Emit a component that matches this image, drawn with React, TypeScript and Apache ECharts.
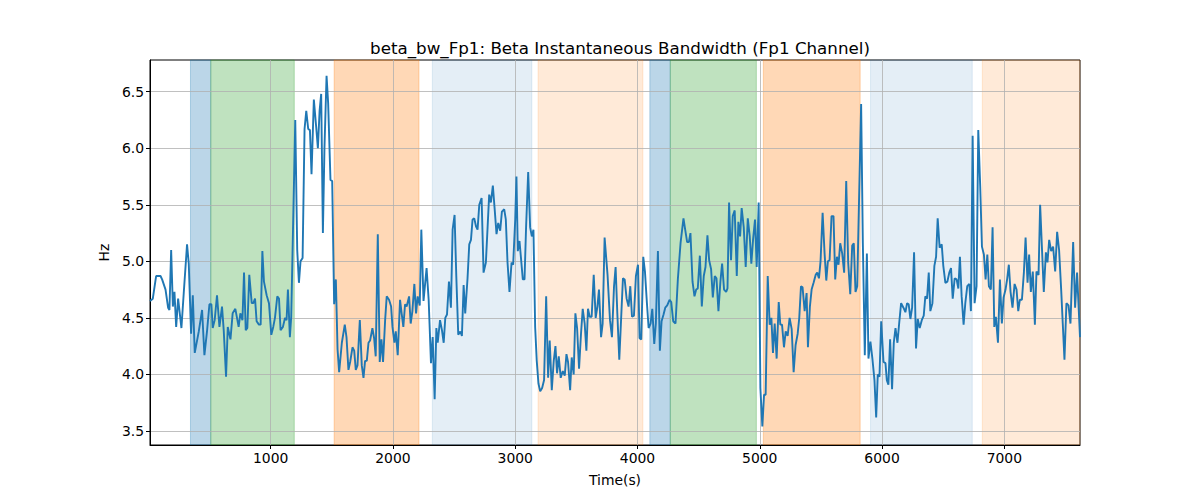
import React, { useEffect, useRef } from "react";
import * as echarts from "echarts";

const times: number[] = [
  13, 36, 63, 99, 112, 140, 161, 172, 186, 200, 213, 227, 243, 270, 289, 316, 330, 349, 363, 379,
  412, 439, 458, 480, 499, 515, 526, 542, 561, 581, 602, 616, 635, 649, 671, 689, 711, 738, 752,
  769, 782, 796, 809, 825, 845, 858, 872, 885, 904, 918, 932, 945, 967, 986, 1005, 1021, 1035, 1054,
  1068, 1081, 1100, 1117, 1130, 1141, 1157, 1168, 1201, 1217, 1231, 1244, 1261, 1277, 1291, 1307,
  1321, 1334, 1353, 1372, 1386, 1400, 1413, 1427, 1440, 1457, 1470, 1489, 1503,
  1519, 1533, 1547, 1560, 1582, 1606, 1620, 1636, 1650, 1669, 1683, 1696, 1710, 1729, 1745, 1759,
  1772, 1786, 1800, 1813, 1832, 1846, 1859, 1876, 1892, 1906, 1919, 1936, 1949, 1968, 1985, 1996,
  2012, 2023, 2039, 2058, 2072, 2085, 2099, 2112, 2132, 2145, 2159, 2175, 2189, 2202, 2219, 2232,
  2250, 2275,
  2292, 2311, 2325, 2341, 2355, 2366, 2385, 2401, 2415, 2428, 2442, 2458, 2474, 2488, 2504, 2518,
  2534, 2551, 2564, 2578, 2591, 2610, 2624, 2638, 2651, 2665, 2679, 2692, 2706, 2725, 2741, 2760,
  2774, 2787, 2801, 2817, 2834, 2847, 2861, 2877, 2891, 2910, 2923, 2937, 2953, 2970, 2983, 3000,
  3010, 3021, 3035, 3062, 3076, 3089, 3106, 3122, 3136, 3149, 3163, 3176, 3190, 3204, 3220, 3236,
  3253, 3269, 3282, 3299, 3315, 3329, 3342, 3356, 3372, 3389, 3405, 3419, 3432, 3449, 3462, 3478,
  3492, 3506, 3522, 3538, 3552, 3568, 3582, 3595, 3609, 3625, 3642, 3658, 3672, 3685, 3702, 3715,
  3731,
  3755, 3775, 3791, 3808, 3821, 3835, 3851, 3868, 3881, 3895, 3911, 3927, 3941, 3955, 3971, 3987,
  4004, 4017, 4031, 4047, 4061, 4077, 4091, 4107, 4121, 4137, 4150, 4167, 4183, 4197, 4213, 4227,
  4243, 4262, 4276, 4292, 4311, 4330, 4352, 4376, 4390, 4406, 4420, 4433, 4450, 4466, 4480, 4493,
  4510, 4526, 4542, 4556, 4572, 4586, 4602, 4616, 4632, 4646, 4662, 4678, 4692, 4708, 4725, 4736,
  4749, 4765, 4779, 4795, 4812, 4825, 4839, 4852, 4869, 4885, 4902, 4918, 4931, 4945, 4961, 4975,
  4991, 5005, 5021, 5035, 5048, 5065, 5081, 5095, 5108, 5122, 5138, 5155, 5168, 5182, 5198, 5212,
  5228, 5244,
  5261, 5277, 5293, 5310, 5323, 5337, 5350, 5367, 5383, 5394, 5410, 5424, 5440, 5457, 5470, 5484,
  5497, 5514, 5530, 5544, 5557, 5571, 5587, 5603, 5617, 5631, 5644, 5658, 5674, 5690, 5707, 5723,
  5740, 5756, 5769, 5783, 5797, 5813, 5829, 5843, 5859, 5876, 5889, 5905, 5922, 5938, 5952, 5965,
  5979, 5993,
  6012, 6028, 6039, 6052, 6066, 6082, 6096, 6110, 6126, 6140, 6156, 6175, 6191, 6205, 6218, 6232,
  6246, 6262, 6278, 6292, 6308, 6325, 6341, 6354, 6368, 6382, 6395, 6412, 6428, 6442, 6455, 6471,
  6488, 6501, 6518, 6534, 6550, 6564, 6578, 6594, 6610, 6624, 6637, 6651, 6667, 6681, 6697, 6714,
  6727, 6741, 6757,
  6773, 6787, 6803, 6817, 6833, 6847, 6861, 6874, 6890, 6904, 6918, 6931, 6948, 6964, 6980, 6994,
  7010, 7024, 7037, 7051, 7067, 7084, 7100, 7114, 7127, 7144, 7160, 7174, 7190, 7203, 7217, 7233,
  7250, 7263, 7280, 7293, 7310, 7323, 7340, 7353, 7367, 7383, 7399, 7416, 7432, 7448, 7465, 7478,
  7492, 7508, 7525, 7541, 7563, 7579, 7595, 7619,
];

const values: number[] = [
  4.65, 4.67, 4.87, 4.87, 4.84, 4.75, 4.59, 4.57, 5.10, 4.60, 4.73, 4.42, 4.67, 4.41, 4.72, 5.15, 4.98, 4.36, 4.70, 4.19,
  4.38, 4.57, 4.17, 4.39, 4.62, 4.62, 4.41, 4.48, 4.70, 4.42, 4.60, 4.39, 3.98, 4.42, 4.31, 4.54, 4.58, 4.42, 4.54,
  4.48, 4.90, 4.39, 4.41, 4.88, 4.63, 4.63, 4.67, 4.47, 4.44, 4.44, 5.09, 4.82, 4.70, 4.63, 4.35, 4.42, 4.50, 4.69,
  4.67, 4.39, 4.42, 4.50, 4.48, 4.75, 4.33, 4.51, 6.25, 5.10, 4.81, 5.00, 5.03, 6.17, 6.33, 6.17,
  6.16, 5.77, 6.43, 6.19, 6.00, 6.33, 6.48, 5.25, 6.01, 6.64, 6.40, 5.72, 5.71,
  4.62, 4.84, 4.22, 4.02, 4.28, 4.44, 4.33, 4.04, 4.11, 4.24, 4.21, 4.04, 4.08, 4.48, 4.08, 3.97,
  4.12, 4.12, 4.28, 4.30, 4.41, 4.32, 4.16, 5.24, 4.11, 4.31, 4.11, 4.48, 4.69, 4.66, 4.60, 4.42,
  4.28, 4.38, 4.17, 4.66, 4.53, 4.42, 4.62, 4.60, 4.69, 4.45, 4.56, 4.80, 4.54, 4.69, 4.61, 5.28,
  4.65, 4.94,
  4.66, 4.10, 4.33, 3.78, 4.41, 4.28, 4.48, 4.39, 4.28, 4.50, 4.53, 4.82, 4.59, 5.28, 5.41, 4.87,
  4.35, 4.38, 4.34, 4.79, 4.54, 4.85, 5.15, 5.19, 5.37, 5.38, 5.31, 5.28, 5.50, 5.56, 4.90, 4.99,
  5.30, 5.59, 5.52, 5.67, 5.43, 5.24, 5.34, 5.27, 5.44, 5.46, 5.37, 4.99, 4.73, 4.99, 4.97, 5.37,
  5.75, 5.09, 5.18, 4.84, 4.84, 5.31, 5.79, 5.30, 5.22, 5.28, 4.42, 4.12, 3.92, 3.85, 3.88, 3.95,
  4.69, 3.97, 4.30, 3.86, 4.12, 4.25, 4.01, 4.16, 3.97, 4.03, 3.99, 4.18, 4.11, 3.86, 4.15, 4.00,
  4.54, 4.41, 4.05, 4.36, 4.58, 4.45, 4.21, 4.58, 4.51, 4.51, 4.88, 4.50, 4.60, 4.75, 4.33, 4.45,
  5.21,
  4.88, 4.48, 4.33, 4.78, 4.95, 4.54, 4.13, 4.54, 4.85, 4.84, 4.67, 4.60, 4.78, 4.51, 4.52, 4.87,
  4.97, 4.32, 4.31, 5.04, 4.91, 4.63, 4.41, 4.45, 4.58, 4.27, 4.45, 5.09, 4.21, 4.47, 4.53, 4.59,
  4.61, 4.66, 4.64, 4.47, 4.45, 4.84, 5.16, 5.38, 5.28, 5.17, 5.17, 5.25, 4.82, 4.69, 4.75, 4.76,
  5.05, 4.60, 4.87, 4.95, 5.23, 5.01, 4.93, 4.68, 4.87, 4.85, 4.56, 4.82, 4.98, 4.75, 4.73, 4.76,
  5.52, 5.01, 5.40, 5.45, 4.87, 5.35, 5.22, 5.47, 5.30, 4.95, 5.38, 5.22, 4.98, 5.19, 5.37, 4.95,
  5.52, 3.88, 3.54, 3.82, 3.82, 4.87, 4.44, 4.50, 4.19, 4.45, 4.14, 4.64, 4.44, 4.44, 4.24, 4.38,
  4.34, 4.50,
  4.40, 4.02, 4.26, 4.36, 4.50, 4.78, 4.77, 4.56, 4.72, 4.24, 4.60, 4.75, 4.81, 4.88, 4.90, 4.85,
  5.00, 5.43, 5.07, 4.83, 5.00, 5.01, 5.40, 5.40, 4.84, 5.04, 4.97, 5.16, 5.07, 4.90, 5.71, 4.99,
  4.71, 5.14, 5.16, 4.73, 4.78, 5.60, 6.39, 5.16, 4.17, 5.07, 4.14, 4.29, 4.13, 3.95, 3.62, 4.00,
  3.98, 4.47,
  4.11, 4.10, 3.95, 3.91, 4.31, 3.87, 4.28, 4.41, 4.28, 4.45, 4.63, 4.59, 4.55, 4.63, 4.62, 4.49,
  4.59, 5.08, 4.23, 4.49, 4.41, 4.48, 4.52, 4.69, 4.67, 4.90, 4.56, 4.63, 4.96, 5.04, 5.38, 5.12,
  5.15, 4.96, 4.81, 4.82, 4.90, 4.94, 4.67, 4.85, 4.84, 4.76, 5.04, 4.69, 4.44, 4.63, 4.78, 4.80,
  4.56, 6.11, 4.63,
  4.78, 6.16, 5.66, 5.13, 5.06, 4.84, 5.06, 4.78, 4.75, 5.30, 4.42, 4.51, 4.28, 4.84, 4.45, 4.68,
  4.75, 4.85, 4.97, 4.73, 4.59, 4.80, 4.75, 4.56, 4.66, 4.66, 4.90, 5.21, 4.81, 5.06, 4.73, 4.91,
  4.44, 4.91, 4.88, 5.50, 5.06, 4.73, 5.08, 4.99, 5.19, 5.09, 5.13, 4.91, 5.26, 5.10, 4.75, 4.45,
  4.13, 4.63, 4.61, 4.45, 5.17, 4.59, 4.90, 4.33,
];

const spanStarts: number[] = [344, 510, 1519, 2322, 3187, 4101, 4268, 5029, 5906, 6820];
const spanEnds: number[] = [510, 1193, 2213, 3136, 4044, 4268, 4972, 5821, 6738, 7619];
const spanKinds: string[] = [
  "blue", "green", "orange", "lightblue", "lightorange",
  "blue", "green", "orange", "lightblue", "lightorange",
];

const xTicks: number[] = [1000, 2000, 3000, 4000, 5000, 6000, 7000];
const yTicks: number[] = [3.5, 4.0, 4.5, 5.0, 5.5, 6.0, 6.5];

const X_MIN = 13;
const X_MAX = 7619;
const Y_MIN = 3.376;
const Y_MAX = 6.78;

const TITLE = "beta_bw_Fp1: Beta Instantaneous Bandwidth (Fp1 Channel)";

const spanColors: Record<string, string> = {
  blue: "rgba(31,119,180,0.3)",
  green: "rgba(44,160,44,0.3)",
  orange: "rgba(255,127,14,0.3)",
  lightblue: "rgba(31,119,180,0.12)",
  lightorange: "rgba(255,127,14,0.16)",
};

const FONT = "DejaVu Sans";

export default function App() {
  const ref = useRef<HTMLDivElement>(null);

  useEffect(() => {
    document.body.style.margin = "0";
    if (!ref.current) return;
    const chart = echarts.init(ref.current, null, { renderer: "svg" });

    const lineData = times.map((t, i) => [t, values[i]]);
    const areas = spanStarts.map((s, i) => {
      const c = spanColors[spanKinds[i]];
      return [
        { xAxis: s, itemStyle: { color: c, borderColor: c, borderWidth: 1 } },
        { xAxis: spanEnds[i] },
      ];
    });

    const tickLabelStyle = { color: "#000", fontSize: 13.9, fontFamily: FONT };

    chart.setOption({
      animation: false,
      backgroundColor: "#ffffff",
      title: {
        text: TITLE,
        left: 615,
        top: 34,
        textAlign: "center",
        textStyle: { fontFamily: FONT, fontSize: 16.7, fontWeight: "normal", color: "#000" },
      },
      grid: {
        left: 150,
        right: 120,
        top: 60,
        bottom: 55,
        show: true,
        borderColor: "#000",
        borderWidth: 1,
        backgroundColor: "transparent",
      },
      xAxis: {
        type: "value",
        min: X_MIN,
        max: X_MAX,
        z: 2,
        name: "Time(s)",
        nameLocation: "middle",
        nameGap: 28,
        nameTextStyle: tickLabelStyle,
        axisLine: { show: true, onZero: false, lineStyle: { color: "#000", width: 1 } },
        axisTick: { show: true, length: 4, customValues: xTicks, lineStyle: { color: "#000" } },
        axisLabel: {
          ...tickLabelStyle,
          margin: 6,
          customValues: xTicks,
          formatter: (v: number) => String(Math.round(v)),
        },
        splitLine: { show: true, lineStyle: { color: "#b0b0b0", width: 0.8 } },
      },
      yAxis: {
        type: "value",
        min: Y_MIN,
        max: Y_MAX,
        z: 2,
        name: "Hz",
        nameLocation: "middle",
        nameGap: 38,
        nameTextStyle: tickLabelStyle,
        axisLine: { show: true, onZero: false, lineStyle: { color: "#000", width: 1 } },
        axisTick: { show: true, length: 4, customValues: yTicks, lineStyle: { color: "#000" } },
        axisLabel: {
          ...tickLabelStyle,
          margin: 6,
          customValues: yTicks,
          formatter: (v: number) => v.toFixed(1),
        },
        splitLine: { show: true, lineStyle: { color: "#b0b0b0", width: 0.8 } },
      },
      series: [
        {
          type: "line",
          data: lineData,
          showSymbol: false,
          symbol: "none",
          z: 3,
          lineStyle: { color: "#1f77b4", width: 1.9 },
          markArea: { silent: true, data: areas },
        },
      ],
    });

    return () => chart.dispose();
  }, []);

  return <div ref={ref} style={{ width: 1200, height: 500 }} />;
}
